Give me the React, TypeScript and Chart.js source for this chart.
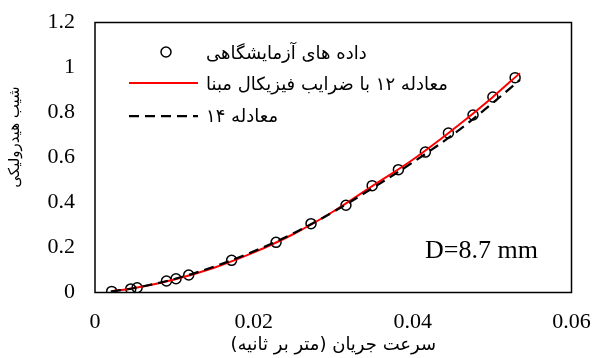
import React, { useEffect, useRef } from "react";
import { Chart, registerables } from "chart.js";

Chart.register(...registerables);

// Experimental data (flow velocity m/s, hydraulic gradient)
const expX = [0.0021, 0.0045, 0.0053, 0.009, 0.0102, 0.0118, 0.0172, 0.0228, 0.0272, 0.0316, 0.0349, 0.0382, 0.0416, 0.0445, 0.0476, 0.0501, 0.0529];
const expY = [0.005, 0.016, 0.021, 0.051, 0.061, 0.078, 0.143, 0.223, 0.306, 0.388, 0.475, 0.546, 0.624, 0.709, 0.789, 0.869, 0.955];

// Equation 12 (red) curve
const eq12X = [0.002, 0.005, 0.01, 0.015, 0.02, 0.025, 0.03, 0.035, 0.04, 0.045, 0.05, 0.0535];
const eq12Y = [0.005, 0.02, 0.058, 0.11, 0.178, 0.26, 0.36, 0.475, 0.59, 0.722, 0.866, 0.975];

// Equation 14 (dashed) curve
const eq14X = [0.002, 0.005, 0.01, 0.015, 0.02, 0.025, 0.03, 0.035, 0.04, 0.045, 0.05, 0.0535];
const eq14Y = [0.004, 0.02, 0.06, 0.115, 0.183, 0.263, 0.358, 0.465, 0.578, 0.7, 0.84, 0.945];

const xTicks = [0, 0.02, 0.04, 0.06];
const yTicks = [0, 0.2, 0.4, 0.6, 0.8, 1, 1.2];
const xTickLabels = ["0", "0.02", "0.04", "0.06"];
const yTickLabels = ["0", "0.2", "0.4", "0.6", "0.8", "1", "1.2"];

const legendLabels = ["داده های آزمایشگاهی", "معادله ۱۲ با ضرایب فیزیکال مبنا", "معادله ۱۴"];
const xTitle = "سرعت جریان (متر بر ثانیه)";
const yTitle = "شیب هیدرولیکی";
const noteText = "D=8.7 mm";

const serif = '"Liberation Serif", "Times New Roman", serif';
const persian = '"DejaVu Sans", sans-serif';

const overlay = {
  id: "overlay",
  afterDraw(chart: any) {
    const { ctx, chartArea } = chart;
    const a = chartArea;
    ctx.save();
    // plot border
    ctx.strokeStyle = "#000";
    ctx.lineWidth = 1.5;
    ctx.strokeRect(a.left, a.top, a.right - a.left, a.bottom - a.top);

    // legend
    const symL = 129, symR = 198, textX = 206;
    const rows = [54, 85, 117];
    ctx.font = "18px " + persian;
    ctx.fillStyle = "#000";
    ctx.textBaseline = "middle";
    ctx.direction = "rtl";
    ctx.textAlign = "left";
    // circle
    ctx.beginPath();
    ctx.arc(166, rows[0] - 2, 5, 0, Math.PI * 2);
    ctx.lineWidth = 1.5;
    ctx.strokeStyle = "#000";
    ctx.stroke();
    // red line
    ctx.beginPath();
    ctx.moveTo(symL, rows[1] - 2);
    ctx.lineTo(symR, rows[1] - 2);
    ctx.strokeStyle = "#ff0000";
    ctx.lineWidth = 2;
    ctx.stroke();
    // dashed line
    ctx.beginPath();
    ctx.setLineDash([10, 6]);
    ctx.moveTo(symL, rows[2] - 1);
    ctx.lineTo(symR, rows[2] - 1);
    ctx.strokeStyle = "#000";
    ctx.lineWidth = 2.25;
    ctx.stroke();
    ctx.setLineDash([]);
    legendLabels.forEach((t, i) => {
      ctx.fillText(t, textX, rows[i]);
    });

    // x title
    ctx.textAlign = "center";
    ctx.fillText(xTitle, (a.left + a.right) / 2, 345);

    // y title
    ctx.save();
    ctx.font = "15px " + persian;
    ctx.translate(15, 137);
    ctx.rotate(-Math.PI / 2);
    ctx.textAlign = "center";
    ctx.fillText(yTitle, 0, 0);
    ctx.restore();

    // note
    ctx.direction = "ltr";
    ctx.textAlign = "left";
    ctx.font = "26px " + serif;
    ctx.fillText(noteText, 425, 251);
    ctx.restore();
  },
};

export default function App() {
  const ref = useRef<HTMLCanvasElement>(null);
  useEffect(() => {
    const canvas = ref.current!;
    const chart = new Chart(canvas, {
      type: "scatter",
      data: {
        datasets: [
          {
            label: legendLabels[0],
            data: expX.map((x, i) => ({ x, y: expY[i] })),
            pointStyle: "circle",
            pointRadius: 5,
            pointBorderWidth: 1.5,
            pointBorderColor: "#000",
            pointBackgroundColor: "rgba(0,0,0,0)",
            showLine: false,
            order: 3,
          },
          {
            label: legendLabels[1],
            data: eq12X.map((x, i) => ({ x, y: eq12Y[i] })),
            showLine: true,
            borderColor: "#ff0000",
            borderWidth: 2,
            pointRadius: 0,
            cubicInterpolationMode: "monotone",
            order: 2,
          },
          {
            label: legendLabels[2],
            data: eq14X.map((x, i) => ({ x, y: eq14Y[i] })),
            showLine: true,
            borderColor: "#000",
            borderWidth: 2.25,
            borderDash: [10, 6],
            pointRadius: 0,
            cubicInterpolationMode: "monotone",
            order: 1,
          },
        ] as any,
      },
      options: {
        animation: false,
        responsive: false,
        layout: { padding: { left: 0, right: 21.5, top: 22.5, bottom: 0 } },
        plugins: { legend: { display: false }, tooltip: { enabled: false } },
        scales: {
          x: {
            type: "linear",
            min: 0,
            max: 0.06,
            grid: { display: false, drawTicks: false },
            border: { display: false },
            afterFit: (s: any) => {
              s.height = 65.5;
              s.paddingLeft = 0;
              s.paddingRight = 0;
            },
            afterBuildTicks: (s: any) => {
              s.ticks = xTicks.map((v) => ({ value: v }));
            },
            ticks: {
              padding: 17,
              color: "#000",
              font: { family: serif, size: 22 },
              maxRotation: 0,
              callback: (v: any) => {
                const i = xTicks.findIndex((t) => Math.abs(t - v) < 1e-9);
                return i >= 0 ? xTickLabels[i] : "";
              },
            },
          },
          y: {
            type: "linear",
            min: 0,
            max: 1.2,
            grid: { display: false, drawTicks: false },
            border: { display: false },
            afterFit: (s: any) => {
              s.width = 95;
              s.paddingTop = 0;
              s.paddingBottom = 0;
            },
            afterBuildTicks: (s: any) => {
              s.ticks = yTicks.map((v) => ({ value: v }));
            },
            ticks: {
              padding: 20,
              color: "#000",
              font: { family: serif, size: 22 },
              callback: (v: any) => {
                const i = yTicks.findIndex((t) => Math.abs(t - v) < 1e-9);
                return i >= 0 ? yTickLabels[i] : "";
              },
            },
          },
        },
      },
      plugins: [overlay],
    });
    return () => chart.destroy();
  }, []);
  return (
    <div style={{ position: "absolute", left: 0, top: 0, width: 593, height: 358, background: "#fff" }}>
      <canvas ref={ref} width={593} height={358} />
    </div>
  );
}
